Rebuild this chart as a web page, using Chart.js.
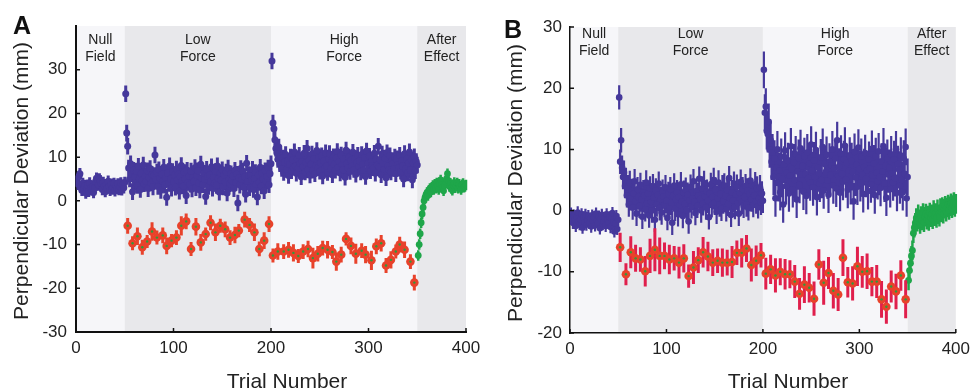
<!DOCTYPE html>
<html>
<head>
<meta charset="utf-8">
<script src="https://cdn.jsdelivr.net/npm/chart.js@4.4.0/dist/chart.umd.min.js"></script>
<style>
    body { margin: 0; background: #fff; width: 976px; height: 391px; overflow: hidden; position: relative; }
    canvas { position: absolute; top: 0; }
    #panelA { left: 0; }
    #panelB { left: 488px; }
</style>
</head>
<body>
<canvas id="panelA" width="488" height="391"></canvas>
<canvas id="panelB" width="488" height="391"></canvas>
<script>
// Trial phases shared by both panels
const phaseEdges = [0, 50, 200, 350, 400];
const phaseNames = [['Null', 'Field'], ['Low', 'Force'], ['High', 'Force'], ['After', 'Effect']];
const xTicks = [0, 100, 200, 300, 400];
const yTicksA = [-30, -20, -10, 0, 10, 20, 30];
const yTicksB = [-20, -10, 0, 10, 20, 30];

// ---- Panel A ----
// field trials 1-350
const blueA = [
    4.5, 3.8, 5.6, 6.2, 3.1, 2.4, 4.0, 2.7, 3.5, 1.8, 2.9, 3.6, 2.2, 4.1, 3.0, 2.5, 3.3, 1.9, 2.8, 4.4, 5.2, 4.8, 3.6, 5.0, 4.6,
    3.9, 2.6, 4.2, 3.4, 2.1, 3.7, 2.9, 4.5, 3.2, 2.4, 3.8, 2.7, 3.1, 4.0, 2.3, 3.5, 2.8, 3.9, 2.6, 3.3, 4.1, 2.5, 3.6, 3.0, 4.2,
    24.5, 15.5, 12.5, 7.5, 5.0, 8.5, 6.2, 2.1, 7.0, 5.5,
    4.2, 6.8, 3.5, 7.9, 5.1, 2.6, 6.3, 4.7, 8.2, 3.9, 5.6, 4.4, 6.9, 2.8, 5.3, 7.4, 4.1, 6.0, 3.2, 5.8,
    10.5, 4.9, 6.6, 3.3, 7.1, 5.2, 2.4, 6.1, 4.5, 7.7, 3.6, 5.4, 0.8, 6.4, 4.0, 8.0, 5.0, 2.9, 6.7, 4.3,
    5.9, 3.1, 7.3, 4.8, 6.2, 2.2, 5.5, 8.1, 4.6, 3.4, 6.5, 5.0, 1.2, 7.0, 4.2, 5.7, 3.8, 6.8, 2.7, 5.3,
    4.5, 7.6, 3.0, 5.8, 6.9, 4.1, 2.5, 8.4, 5.2, 3.7, 6.3, 4.9, 1.0, 7.2, 5.6, 3.3, 6.0, 4.4, 7.8, 2.9,
    5.4, 4.0, 6.7, 3.5, 8.0, 5.1, 2.0, 6.4, 4.7, 7.1, 3.2, 5.9, 4.3, 6.6, 1.8, 7.5, 5.0, 3.9, 6.2, 4.6,
    5.7, 2.8, 7.0, 4.2, 6.1, -0.5, 5.3, 3.6, 7.4, 4.9, 6.8, 3.1, 5.5, 1.5, 8.6, 4.4, 6.0, 3.0, 5.8, 4.8,
    7.2, 2.6, 5.1, 6.5, 3.8, 0.9, 5.9, 4.2, 7.7, 3.4, 6.3, 5.0, 2.3, 6.9, 4.5, 5.6, 7.5, 3.7, 6.2, 8.5,
    32.0, 17.8, 16.5, 14.0, 12.0, 11.0, 9.5, 12.3, 8.5, 10.2,
    7.4, 9.8, 6.5, 8.9, 10.6, 7.2, 9.1, 5.8, 8.3, 10.0, 6.9, 9.4, 7.7, 11.2, 8.0, 6.3, 9.6, 7.5, 10.4, 8.6,
    5.5, 9.0, 7.8, 10.9, 6.6, 8.8, 12.0, 7.1, 9.3, 5.9, 8.4, 10.7, 7.0, 9.7, 6.2, 8.1, 11.5, 7.6, 9.9, 6.8,
    8.7, 10.3, 5.7, 9.2, 7.4, 11.0, 8.0, 6.5, 9.6, 10.8, 7.3, 8.9, 6.0, 10.1, 8.4, 7.0, 9.8, 11.3, 7.7, 9.0,
    6.4, 10.5, 8.2, 7.1, 9.5, 5.4, 11.6, 8.6, 7.5, 10.0, 6.7, 9.3, 8.0, 11.1, 7.2, 9.7, 6.1, 8.8, 10.4, 7.9,
    9.1, 6.6, 10.6, 8.3, 7.0, 9.9, 5.6, 11.4, 8.5, 7.4, 10.2, 6.9, 9.0, 8.1, 7.6, 10.9, 6.3, 9.5, 8.2, 12.5,
    7.8, 9.4, 6.0, 10.7, 8.6, 7.2, 9.8, 5.3, 11.0, 8.0, 7.1, 10.3, 6.6, 9.2, 8.5, 7.4, 10.0, 6.2, 9.6, 8.3,
    7.5, 10.4, 6.8, 9.1, 8.0, 5.0, 10.8, 7.3, 9.5, 6.4, 8.7, 11.2, 7.0, 9.3, 4.8, 8.6, 10.1, 6.9, 9.0, 8.2
];
// catch trials
const redTrialsA = [
    53, 58, 63, 68, 73, 78, 83, 89, 93, 98, 103, 108, 113, 118, 123, 128, 133, 138, 143, 148,
    153, 158, 163, 167, 173, 178, 183, 188, 193, 198,
    202, 207, 213, 218, 223, 228, 233, 238, 243, 248, 253, 258, 263, 267, 272, 277, 282, 287, 293, 297,
    303, 308, 313, 318, 323, 328, 332, 337, 343, 347
];
const redA = [
    -5.7, -9.7, -8.1, -10.6, -9.3, -7.0, -8.4, -7.9, -10.3, -9.1, -8.4, -5.7, -4.7, -11.0, -5.9, -9.5, -7.6, -5.0, -7.2, -5.7,
    -6.5, -8.4, -7.8, -6.8, -4.3, -5.5, -7.2, -11.0, -9.1, -5.3,
    -12.5, -11.6, -11.6, -11.2, -11.9, -12.6, -11.6, -11.0, -13.1, -12.1, -10.8, -11.2, -11.7, -13.9, -12.3, -8.7, -10.3, -12.1, -11.4, -12.3,
    -13.6, -10.4, -9.7, -14.8, -13.5, -11.6, -10.0, -11.2, -13.9, -18.7
];
const redErrA = [
    1.8, 1.6, 2.0, 1.7, 1.5, 2.1, 1.6, 1.8, 1.9, 1.5, 1.7, 2.2, 1.8, 1.6, 2.0, 1.9, 1.5, 1.7, 2.0, 1.6,
    1.8, 1.7, 1.9, 1.5, 1.8, 1.6, 2.0, 1.7, 1.9, 1.8,
    1.6, 1.9, 1.7, 1.8, 2.0, 1.6, 1.7, 1.9, 2.4, 1.8, 1.7, 2.0, 1.6, 2.1, 1.8, 1.5, 1.9, 2.3, 1.7, 2.0,
    2.2, 1.8, 1.9, 1.7, 2.0, 1.6, 1.8, 1.9, 1.7, 1.8
];
// washout trials 351-400
const greenA = [
    -12.5, -10.0, -7.5, -5.0, -3.0, -1.5, 0.0, 0.8, 1.4, 1.9,
    1.2, 2.4, 2.8, 2.0, 3.1, 3.5, 2.6, 3.8, 2.9, 4.1,
    3.4, 2.6, 3.9, 4.8, 3.7, 3.1, 2.3, 3.5, 4.4, 5.0,
    6.2, 4.6, 3.3, 4.0, 2.8, 2.4, 3.6, 4.2, 3.0, 3.4,
    4.1, 2.9, 3.8, 3.2, 2.6, 3.7, 4.0, 3.1, 3.3, 3.6
];
// standard error per phase (null, low, high, after)
const phaseErrA = [1.3, 1.9, 1.9, 1.2];

// ---- Panel B ----
const blueB = [
    -0.5, -1.2, -2.0, -0.8, -1.6, -2.5, -1.0, -0.3, -1.8, -2.2, -1.4, -0.6, -2.8, -1.1, -1.9, -0.7, -2.3, -1.5, -0.9, -2.0, -1.3, -2.6, -0.8, -1.7, -1.1,
    -2.4, -0.5, -1.6, -2.1, -1.0, -2.9, -1.4, -0.7, -2.2, -1.8, -1.2, -2.5, -0.6, -1.5, -2.0, -1.1, -2.7, -1.3, -0.4, -1.9, -3.4, -2.1, -0.9, -3.0, -1.5,
    18.5, 8.0, 11.5, 7.0, 5.5, 6.2, 4.0, 5.0, 2.5, 3.8,
    1.0, 4.5, 2.0, 3.2, 0.5, 2.8, 4.8, 1.5, -0.5, 3.5, 2.2, 0.8, 4.2, 1.8, -1.0, 3.0, 2.5, 0.2, 4.6, 1.2,
    2.8, -0.8, 3.6, 1.4, 0.0, 4.0, 2.1, -1.5, 3.3, 1.0, 2.6, 4.4, 0.4, 1.9, -0.3, 3.1, 2.3, 0.9, 3.8, 1.6,
    -1.2, 2.7, 0.6, 3.5, 1.3, -2.0, 2.4, 4.1, 0.3, 1.8, 3.0, -0.6, 2.2, 0.9, 4.3, 1.5, -0.9, 2.9, 1.1, 3.4,
    0.1, 2.6, -1.8, 1.7, 3.9, 0.7, 2.0, 4.8, 1.4, -0.4, 3.2, 0.8, 2.5, 5.2, 1.9, 0.0, 3.6, 1.2, 4.5, 2.3,
    0.5, 3.1, 1.6, -1.1, 2.8, 4.2, 0.9, 2.2, 5.0, 1.3, 3.4, -0.2, 2.0, 4.6, 1.0, 2.7, 0.3, 3.8, 1.5, 4.1,
    2.4, 0.2, 3.3, 1.1, 5.3, 2.0, -0.7, 3.0, 1.7, 4.4, 0.6, 2.6, 3.9, 1.2, -0.5, 2.9, 4.7, 1.4, 3.5, 0.8,
    2.2, 4.0, 1.0, 3.3, 0.4, 2.7, 4.9, 1.8, 3.1, 0.9, 2.5, 4.3, 1.5, 3.6, 0.7, 2.0, 3.8, 1.3, 2.8, 1.6,
    23.0, 16.0, 17.0, 13.0, 12.5, 14.5, 10.0, 11.5, 8.0, 9.5,
    5.5, 8.5, 2.0, 7.0, 10.0, 4.5, 6.5, 3.0, 8.8, 5.2, 1.0, 7.5, 9.8, 4.0, 6.2, 8.1, 2.8, 5.7, 10.5, 6.8,
    3.5, 7.9, 5.0, 9.2, 1.8, 6.4, 8.6, 4.2, 10.2, 5.9, 7.3, 3.1, 8.9, 6.0, 2.4, 9.5, 5.3, 7.7, 4.6, 10.8,
    6.6, 3.8, 8.2, 5.5, 9.9, 2.2, 7.0, 6.1, 4.4, 8.7, 5.0, 10.4, 3.3, 7.6, 6.3, 9.1, 4.9, 2.6, 8.0, 5.8,
    7.4, 10.0, 4.1, 6.9, 8.5, 3.6, 11.5, 5.6, 7.2, 2.9, 9.3, 6.0, 4.7, 8.4, 10.6, 5.1, 7.8, 3.4, 6.5, 9.0,
    4.0, 8.1, 6.3, 1.5, 9.6, 5.4, 7.5, 3.9, 10.3, 6.8, 4.5, 8.8, 5.9, 2.7, 7.1, 9.4, 5.2, 6.6, 3.2, 8.3,
    6.9, 4.3, 10.1, 5.7, 7.7, 2.5, 8.9, 6.2, 4.8, 9.7, 5.5, 3.7, 8.0, 6.4, 10.5, 4.4, 7.3, 2.1, 8.6, 5.9,
    7.0, 3.5, 9.2, 6.1, 4.6, 8.4, 5.3, 10.0, 2.9, 7.6, 6.7, 4.1, 9.0, 5.0, 3.0, 8.5, 6.0, 10.4, 2.0, 5.5
];
const redTrialsB = [
    52, 58, 63, 68, 73, 78, 83, 88, 93, 98, 103, 108, 113, 118, 123, 128, 133, 138, 143, 148,
    153, 158, 163, 168, 173, 178, 183, 188, 193, 198,
    203, 208, 213, 218, 223, 228, 233, 238, 243, 248, 253, 258, 263, 268, 273, 278, 283, 288, 293, 298,
    303, 308, 313, 318, 323, 328, 333, 338, 343, 348
];
const redB = [
    -6.0, -10.4, -6.8, -7.8, -8.0, -9.9, -7.4, -6.4, -7.4, -7.4, -8.0, -7.8, -8.5, -7.8, -10.7, -9.3, -8.1, -6.8, -7.5, -8.5,
    -8.2, -8.5, -8.5, -8.4, -6.9, -6.9, -6.2, -8.9, -8.2, -7.3,
    -10.3, -9.6, -10.6, -10.0, -10.4, -10.4, -11.6, -13.6, -12.1, -12.6, -14.4, -8.8, -11.8, -10.2, -13.1, -13.7, -7.7, -11.7, -11.9, -9.1,
    -10.0, -9.9, -11.6, -11.6, -14.5, -15.7, -12.4, -13.2, -10.6, -14.5
];
const redErrB = [
    2.4, 1.8, 2.6, 2.2, 2.0, 2.5, 2.8, 3.5, 3.0, 2.2, 2.4, 2.0, 2.6, 2.3, 1.9, 2.7, 2.1, 2.5, 2.4, 2.2,
    2.0, 2.3, 2.1, 2.6, 2.0, 2.4, 2.2, 2.7, 2.5, 2.0,
    2.6, 2.4, 2.8, 2.2, 2.5, 2.3, 2.7, 2.6, 3.0, 2.4, 2.8, 2.5, 3.6, 2.6, 2.9, 2.7, 3.0, 2.5, 2.8, 3.2,
    2.6, 2.9, 2.4, 2.7, 3.0, 2.8, 2.6, 2.9, 2.5, 3.1
];
const greenB = [
    -11.4, -9.8, -8.6, -7.4, -6.5, -3.7, -2.8, -2.0, -1.2, -1.8,
    -0.6, -1.4, -2.2, -0.9, -1.6, -0.4, -1.9, -1.0, -0.5, -1.5,
    -0.8, -1.7, -0.3, -1.1, -0.6, -1.4, 0.1, -0.9, -0.4, -1.2,
    0.2, -0.6, -1.0, 0.4, -0.3, 0.6, -0.5, 0.3, 0.8, -0.2,
    0.5, 1.0, 0.1, 0.7, 1.2, 0.4, 0.9, 1.4, 0.6, 1.1
];
const phaseErrB = [1.0, 2.0, 3.0, 1.6];

const fontFamily = '"Liberation Sans", Arial, Helvetica, sans-serif';
Chart.defaults.font.family = fontFamily;
Chart.defaults.font.size = 17;
Chart.defaults.color = '#222';

// Function to turn a list of values into points, one per trial
function toPoints(values, trials) {
    return values.map((v, i) => ({ x: trials[i], y: v }));
}

function trialRange(first, count) {
    return Array.from({ length: count }, (_, i) => first + i);
}

function phaseOf(trial) {
    for (let i = 1; i < phaseEdges.length; i++) {
        if (trial <= phaseEdges[i]) return i - 1;
    }
    return phaseEdges.length - 2;
}

// Shading, phase labels, error bars, inward ticks, titles
const panelDecor = {
    id: 'panelDecor',
    beforeDraw(chart, args, opts) {
        const { ctx, chartArea, scales } = chart;
        const x = scales.x;
        ctx.save();
        for (let i = 0; i < phaseEdges.length - 1; i++) {
            const x0 = x.getPixelForValue(phaseEdges[i]);
            const x1 = x.getPixelForValue(phaseEdges[i + 1]);
            ctx.fillStyle = i % 2 === 0 ? '#f6f6f9' : '#e8e8eb';
            ctx.fillRect(x0, chartArea.top, x1 - x0, chartArea.bottom - chartArea.top);
        }
        ctx.fillStyle = '#222';
        ctx.font = '14px ' + fontFamily;
        ctx.textAlign = 'center';
        ctx.textBaseline = 'middle';
        phaseNames.forEach((lines, i) => {
            const cx = (x.getPixelForValue(phaseEdges[i]) + x.getPixelForValue(phaseEdges[i + 1])) / 2;
            lines.forEach((t, j) => ctx.fillText(t, cx, opts.labelY[j]));
        });
        ctx.restore();
    },
    beforeDatasetDraw(chart, args) {
        const ds = chart.data.datasets[args.index];
        if (!ds.errorBars) return;
        const { ctx, scales } = chart;
        ctx.save();
        ctx.strokeStyle = ds.errorColor;
        ctx.lineWidth = ds.errorWidth;
        ctx.beginPath();
        ds.data.forEach((p, i) => {
            const px = scales.x.getPixelForValue(p.x);
            ctx.moveTo(px, scales.y.getPixelForValue(p.y - ds.errorBars[i]));
            ctx.lineTo(px, scales.y.getPixelForValue(p.y + ds.errorBars[i]));
        });
        ctx.stroke();
        ctx.restore();
    },
    afterDraw(chart, args, opts) {
        const { ctx, chartArea, scales } = chart;
        ctx.save();
        // tick marks point into the plot
        ctx.strokeStyle = '#111';
        ctx.lineWidth = 1.5;
        ctx.beginPath();
        scales.y.ticks.forEach(t => {
            const py = scales.y.getPixelForValue(t.value);
            ctx.moveTo(chartArea.left, py);
            ctx.lineTo(chartArea.left + 4, py);
        });
        scales.x.ticks.forEach(t => {
            const px = scales.x.getPixelForValue(t.value);
            ctx.moveTo(px, chartArea.bottom);
            ctx.lineTo(px, chartArea.bottom - 4);
        });
        ctx.stroke();

        ctx.fillStyle = '#222';
        ctx.textBaseline = 'alphabetic';
        ctx.textAlign = 'center';
        ctx.font = '21px ' + fontFamily;
        ctx.fillText('Trial Number', opts.xTitle[0], opts.xTitle[1]);

        ctx.save();
        ctx.translate(opts.yTitle[0], opts.yTitle[1]);
        ctx.rotate(-Math.PI / 2);
        ctx.fillText('Perpendicular Deviation (mm)', 0, 0);
        ctx.restore();

        ctx.fillStyle = '#111';
        ctx.textAlign = 'left';
        ctx.font = 'bold 25px ' + fontFamily;
        ctx.fillText(opts.letter, opts.letterPos[0], opts.letterPos[1]);
        ctx.restore();
    }
};

function drawPanel(canvasId, p) {
    const ctx = document.getElementById(canvasId).getContext('2d');
    const blueTrials = trialRange(1, p.blue.length);
    const greenTrials = trialRange(351, p.green.length);
    const redPoints = toPoints(p.red, p.redTrials);

    return new Chart(ctx, {
        type: 'scatter',
        data: {
            datasets: [
                {
                    // small green dot in the centre of each catch trial marker
                    data: redPoints,
                    pointRadius: 1.2,
                    backgroundColor: '#2f9a3c',
                    borderWidth: 0
                },
                {
                    data: redPoints,
                    pointRadius: 4.3,
                    backgroundColor: '#e8422b',
                    borderWidth: 0,
                    errorBars: p.redErr,
                    errorColor: p.redBarColor,
                    errorWidth: 3
                },
                {
                    data: toPoints(p.green, greenTrials),
                    pointRadius: 3.4,
                    backgroundColor: '#1fa64a',
                    borderWidth: 0,
                    errorBars: greenTrials.map(t => p.phaseErr[3]),
                    errorColor: '#1fa64a',
                    errorWidth: 2.5
                },
                {
                    data: toPoints(p.blue, blueTrials),
                    pointRadius: p.blueRadius,
                    backgroundColor: '#45389b',
                    borderWidth: 0,
                    errorBars: blueTrials.map(t => p.phaseErr[phaseOf(t)]),
                    errorColor: '#45389b',
                    errorWidth: p.blueBarWidth
                }
            ]
        },
        options: {
            responsive: false,
            animation: false,
            layout: { padding: { left: 0, top: p.top, right: p.right, bottom: 0 } },
            plugins: {
                legend: { display: false },
                tooltip: { enabled: false },
                panelDecor: p.decor
            },
            scales: {
                x: {
                    type: 'linear',
                    min: 0,
                    max: 400,
                    afterFit: s => { s.height = p.xHeight; },
                    afterBuildTicks: s => { s.ticks = xTicks.map(v => ({ value: v })); },
                    grid: { display: false, drawTicks: false },
                    border: { display: true, color: '#111', width: p.axisWidth },
                    ticks: { padding: 6, autoSkip: false, maxRotation: 0, color: '#222' }
                },
                y: {
                    type: 'linear',
                    min: p.yMin,
                    max: p.yMax,
                    afterFit: s => { s.width = p.yWidth; },
                    afterBuildTicks: s => { s.ticks = p.yTicks.map(v => ({ value: v })); },
                    grid: { display: false, drawTicks: false },
                    border: { display: true, color: '#111', width: p.axisWidth },
                    ticks: { padding: p.yPad, color: '#222' }
                }
            }
        },
        plugins: [panelDecor]
    });
}

drawPanel('panelA', {
    blue: blueA, red: redA, redTrials: redTrialsA, redErr: redErrA, green: greenA,
    phaseErr: phaseErrA, redBarColor: '#e8422b', blueRadius: 3.5, blueBarWidth: 3,
    yMin: -30, yMax: 40, yTicks: yTicksA,
    top: 26, right: 22, xHeight: 59, yWidth: 76, yPad: 9, axisWidth: 2,
    decor: { letter: 'A', letterPos: [13, 34], xTitle: [287, 388], yTitle: [28, 181], labelY: [40, 57] }
});

drawPanel('panelB', {
    blue: blueB, red: redB, redTrials: redTrialsB, redErr: redErrB, green: greenB,
    phaseErr: phaseErrB, redBarColor: '#e01f4c', blueRadius: 3.3, blueBarWidth: 2.2,
    yMin: -20, yMax: 30, yTicks: yTicksB,
    top: 27, right: 18, xHeight: 58, yWidth: 82, yPad: 8, axisWidth: 1.5,
    decor: { letter: 'B', letterPos: [16, 38], xTitle: [300, 388], yTitle: [34, 183], labelY: [34, 51] }
});
</script>
</body>
</html>
